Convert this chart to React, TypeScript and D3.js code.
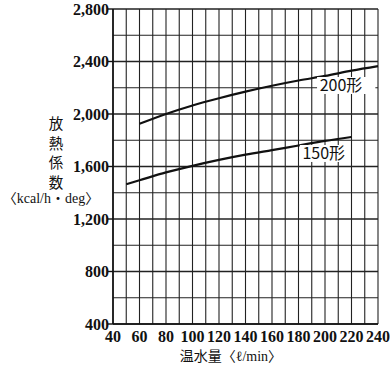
import { useEffect } from "react"
import * as d3 from "d3"

const xTicks = [40, 60, 80, 100, 120, 140, 160, 180, 200, 220, 240]
const yTicks = [400, 800, 1200, 1600, 2000, 2400, 2800]

const flow200 = [60, 80, 100, 120, 140, 160, 180, 200, 220, 240]
const heat200 = [1925, 2000, 2065, 2120, 2170, 2215, 2255, 2290, 2330, 2365]

const flow150 = [50, 60, 80, 100, 120, 140, 160, 180, 200, 220]
const heat150 = [1465, 1495, 1555, 1605, 1650, 1690, 1725, 1760, 1795, 1825]

const yTitleChars = ["放", "熱", "係", "数"]

const W = 390
const H = 372
const margin = { top: 9, right: 12, bottom: 48, left: 113 }
const innerW = W - margin.left - margin.right
const innerH = H - margin.top - margin.bottom

const serif = "Liberation Serif, DejaVu Serif, Noto Sans CJK JP, serif"
const gothic = "Noto Sans CJK JP, DejaVu Sans, sans-serif"

export default function App() {
  useEffect(() => {
    document.body.style.margin = "0"
  }, [])

  const x = d3.scaleLinear().domain([40, 240]).range([0, innerW])
  const y = d3.scaleLinear().domain([400, 2800]).range([innerH, 0])

  const line = d3
    .line<[number, number]>()
    .x((d) => x(d[0]))
    .y((d) => y(d[1]))
    .curve(d3.curveMonotoneX)

  const path200 = line(flow200.map((f, i) => [f, heat200[i]]))
  const path150 = line(flow150.map((f, i) => [f, heat150[i]]))

  const vGrid = d3.range(40, 241, 10)
  const hGrid = d3.range(400, 2801, 200)

  return (
    <svg width={W} height={H} style={{ display: "block", background: "#fff" }}>
      <g transform={`translate(${margin.left},${margin.top})`}>
        {/* grid */}
        {vGrid.map((v) => (
          <line key={"v" + v} x1={x(v)} x2={x(v)} y1={0} y2={innerH} stroke="#222" strokeWidth={1.1} />
        ))}
        {hGrid.map((v) => (
          <line
            key={"h" + v}
            x1={0}
            x2={innerW}
            y1={y(v)}
            y2={y(v)}
            stroke="#222"
            strokeWidth={v % 400 === 0 ? 1.4 : 1.1}
          />
        ))}
        <line x1={0} x2={0} y1={0} y2={innerH} stroke="#111" strokeWidth={1.6} />
        <line x1={0} x2={innerW} y1={innerH} y2={innerH} stroke="#111" strokeWidth={1.6} />

        {/* y ticks */}
        {yTicks.map((v) => (
          <g key={"yt" + v} transform={`translate(0,${y(v)})`}>
            <line x1={-5} x2={0} stroke="#111" strokeWidth={1.4} />
            <text
              x={-4}
              dy="0.36em"
              textAnchor="end"
              fontFamily={serif}
              fontSize={16}
              fontWeight="bold"
              fill="#111"
            >
              {d3.format(",")(v)}
            </text>
          </g>
        ))}

        {/* x ticks */}
        {xTicks.map((v) => (
          <text
            key={"xt" + v}
            x={x(v)}
            y={innerH + 18}
            textAnchor="middle"
            fontFamily={serif}
            fontSize={16}
            fontWeight="bold"
            fill="#111"
          >
            {v}
          </text>
        ))}

        {/* curves */}
        <path d={path200 ?? ""} fill="none" stroke="#111" strokeWidth={2.2} />
        <path d={path150 ?? ""} fill="none" stroke="#111" strokeWidth={2.2} />

        {/* curve labels */}
        <rect x={x(194)} y={y(2282)} width={x(238) - x(194)} height={17} fill="#fff" />
        <text x={x(196)} y={y(2282) + 14} fontFamily={gothic} fontSize={16} fill="#111">
          200形
        </text>
        <rect x={x(181)} y={y(1764)} width={x(216) - x(181)} height={17} fill="#fff" />
        <text x={x(183)} y={y(1764) + 14} fontFamily={gothic} fontSize={16} fill="#111">
          150形
        </text>
      </g>

      {/* axis titles */}
      {yTitleChars.map((c, i) => (
        <text
          key={c}
          x={56}
          y={129 + i * 19.5}
          textAnchor="middle"
          fontFamily={serif}
          fontSize={14.5}
          fill="#111"
        >
          {c}
        </text>
      ))}
      <text x={51} y={203} textAnchor="middle" fontFamily={serif} fontSize={14} fill="#111">
        〈kcal/h・deg〉
      </text>
      <text
        x={margin.left + x(129)}
        y={361}
        textAnchor="middle"
        fontFamily={serif}
        fontSize={14}
        fill="#111"
      >
        温水量〈ℓ/min〉
      </text>
    </svg>
  )
}
